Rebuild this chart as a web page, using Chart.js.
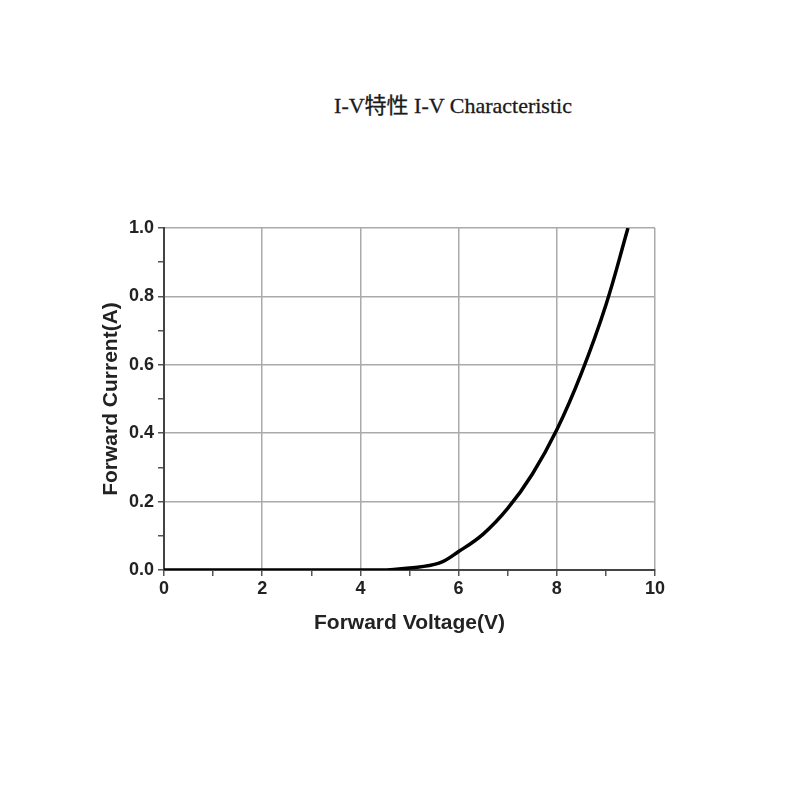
<!DOCTYPE html>
<html>
<head>
<meta charset="utf-8">
<script src="https://cdn.jsdelivr.net/npm/chart.js@4"></script>
<style>
  html, body { margin: 0; padding: 0; background: #fff; }
  #wrap { position: relative; width: 800px; height: 800px; }
  #title {
    position: absolute; top: 87px; left: 0; width: 906px; text-align: center;
    font-family: "Liberation Serif", "Noto Sans CJK SC", serif; font-size: 22px; color: #1a1a1a;
    -webkit-text-stroke: 0.3px #1a1a1a;
  }
  canvas { position: absolute; left: 0; top: 0; }
</style>
</head>
<body>
<div id="wrap">
  <div id="title">I-V特性 I-V Characteristic</div>
  <canvas id="ivChart" width="800" height="800"></canvas>
</div>
<script>
// Forward voltage (V) and forward current (A)
const voltage = [0, 4.4, 5.0, 5.6, 6.0, 6.5, 7.0, 7.5, 8.0, 8.5, 9.0, 9.45];
const current = [0, 0, 0.006, 0.02, 0.054, 0.105, 0.18, 0.28, 0.41, 0.575, 0.775, 1.0];

const xTicks = [0, 2, 4, 6, 8, 10];
const yTicks = [0, 0.2, 0.4, 0.6, 0.8, 1.0];

const points = voltage.map((v, i) => ({ x: v, y: current[i] }));

const tickFont = { family: 'Liberation Sans', size: 18, weight: 'bold' };
const titleFont = { family: 'Liberation Sans', size: 21, weight: 'bold' };

new Chart(document.getElementById('ivChart'), {
    type: 'scatter',
    data: {
        datasets: [{
            data: points,
            showLine: true,
            borderColor: '#000',
            borderWidth: 3.5,
            pointRadius: 0,
            tension: 0.4
        }]
    },
    options: {
        responsive: false,
        animation: false,
        layout: { padding: { left: 95, right: 145, top: 228, bottom: 160 } },
        plugins: { legend: { display: false }, tooltip: { enabled: false } },
        scales: {
            x: {
                type: 'linear',
                min: 0,
                max: 10,
                afterFit: axis => { axis.height = 70; },
                ticks: {
                    stepSize: 1,
                    autoSkip: false,
                    maxRotation: 0,
                    color: '#222',
                    font: tickFont,
                    padding: 2,
                    callback: v => xTicks.includes(v) ? String(v) : ''
                },
                grid: {
                    color: ctx => (ctx.tick && xTicks.includes(ctx.tick.value)) ? '#aaa' : 'rgba(0,0,0,0)',
                    tickColor: '#555',
                    tickLength: 6,
                    lineWidth: 1.5
                },
                border: { color: '#444', width: 2 },
                title: { display: true, text: 'Forward Voltage(V)', color: '#222', font: titleFont, padding: { top: 6 } }
            },
            y: {
                type: 'linear',
                min: 0,
                max: 1,
                afterFit: axis => { axis.width = 69; },
                ticks: {
                    stepSize: 0.1,
                    autoSkip: false,
                    color: '#222',
                    font: tickFont,
                    padding: 4,
                    callback: v => yTicks.some(t => Math.abs(t - v) < 1e-6) ? v.toFixed(1) : ''
                },
                grid: {
                    color: ctx => (ctx.tick && yTicks.some(t => Math.abs(t - ctx.tick.value) < 1e-6)) ? '#aaa' : 'rgba(0,0,0,0)',
                    tickColor: '#555',
                    tickLength: 6,
                    lineWidth: 1.5
                },
                border: { color: '#444', width: 2 },
                title: { display: true, text: 'Forward Current(A)', color: '#222', font: titleFont, padding: { bottom: 0 } }
            }
        }
    }
});
</script>
</body>
</html>
